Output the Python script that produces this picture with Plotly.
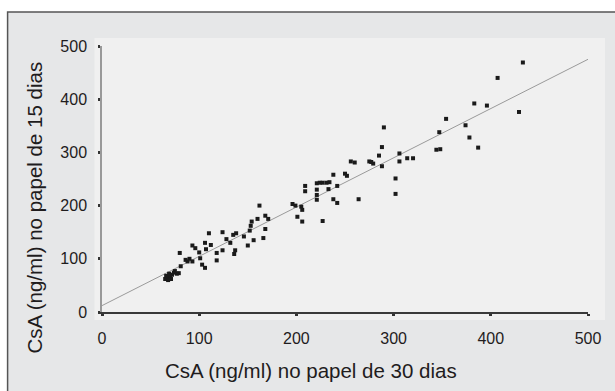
import plotly.graph_objects as go

# CsA (ng/ml) on paper at 30 days (x) vs 15 days (y)
csa_30 = [433, 407, 383, 396, 429, 354, 374, 378, 387, 347, 344, 348,
          290, 288, 285, 288, 306, 306, 314, 320, 302, 302,
          256, 260, 275, 277, 279, 250, 252, 238,
          221, 224, 227, 231, 234, 209, 209, 221, 221, 221, 233, 242,
          196, 199, 205, 206, 201, 206, 227, 238, 242, 264,
          162, 168, 171, 160, 154, 153, 152, 168, 166, 146, 138, 135, 132, 128, 124, 110,
          137, 136, 124, 118, 118, 150, 156, 112, 106, 107, 100, 101, 103, 106,
          93, 96, 90, 88, 93, 80, 86, 81, 79,
          65, 67, 68, 70, 72, 74, 66, 69, 71, 75, 77]
csa_15 = [469, 440, 392, 388, 376, 363, 351, 328, 309, 338, 305, 306,
          347, 310, 294, 274, 298, 283, 289, 289, 251, 222,
          283, 281, 283, 282, 279, 260, 256, 258,
          242, 243, 243, 243, 244, 237, 227, 230, 220, 211, 231, 237,
          203, 200, 198, 192, 179, 170, 171, 212, 205, 212,
          200, 181, 175, 175, 170, 162, 153, 156, 139, 142, 148, 145, 130, 137, 150, 148,
          116, 109, 116, 111, 97, 125, 135, 126, 130, 118, 112, 101, 89, 83,
          125, 120, 100, 95, 95, 111, 98, 86, 73,
          62, 64, 60, 66, 70, 74, 68, 72, 62, 77, 72]

fit_intercept = 12
fit_slope = 0.926
fit_x = [0, 500]
fit_y = [fit_intercept + fit_slope * v for v in fit_x]

ticks = [0, 100, 200, 300, 400, 500]
tick_text = [str(t) for t in ticks]

x_title = "CsA (ng/ml) no papel de 30 dias"
y_title = "CsA (ng/ml) no papel de 15 dias"

FONT = "Liberation Sans, Arial, sans-serif"
TXT = "#1f1c1d"

fig = go.Figure()
fig.add_trace(go.Scatter(x=fit_x, y=fit_y, mode="lines",
                         line=dict(color="#9a9a9a", width=1), hoverinfo="skip",
                         showlegend=False, cliponaxis=False))
fig.add_trace(go.Scatter(x=csa_30, y=csa_15, mode="markers",
                         marker=dict(symbol="square", size=4, color="#1a1a1a",
                                     line=dict(width=0)),
                         showlegend=False, cliponaxis=False))

W, H = 615, 391
L, R, T, B = 101.5, 27, 46, 79
pw = W - L - R
ph = H - T - B

def px2x(px):
    return (px - L) / pw

def py2y(py):
    return (H - B - py) / ph

shapes = [
    # outer grey panel with dark top/left border
    dict(type="rect", xref="paper", yref="paper", layer="below",
         x0=px2x(7), x1=px2x(625), y0=py2y(400), y1=py2y(12),
         fillcolor="#e6e7e8", line=dict(color="#555555", width=1.5)),
    # inner lighter plotting panel
    dict(type="rect", xref="paper", yref="paper", layer="below",
         x0=px2x(94), x1=px2x(605), y0=py2y(320), y1=py2y(38),
         fillcolor="#f0f0f0", line=dict(width=0)),
]

fig.update_layout(
    width=W, height=H,
    margin=dict(l=L, r=R, t=T, b=B, pad=0),
    paper_bgcolor="white",
    plot_bgcolor="rgba(0,0,0,0)",
    shapes=shapes,
    font=dict(family=FONT, color=TXT),
    xaxis=dict(range=[0, 500], tickvals=ticks, ticktext=tick_text,
               showgrid=False, zeroline=False,
               showline=True, linecolor="#3a3a3a", linewidth=2,
               ticks="outside", ticklen=2, tickwidth=3, tickcolor="#333333",
               ticklabelstandoff=9,
               tickfont=dict(size=16, color=TXT, family=FONT)),
    yaxis=dict(range=[0, 500], tickvals=ticks, ticktext=tick_text,
               showgrid=False, zeroline=False,
               showline=True, linecolor="#999999", linewidth=1.5,
               ticks="outside", ticklen=2, tickwidth=3, tickcolor="#333333",
               ticklabelstandoff=8,
               tickfont=dict(size=16, color=TXT, family=FONT)),
    annotations=[
        dict(text=x_title, xref="paper", yref="paper",
             x=px2x(311), y=py2y(370), xanchor="center", yanchor="middle",
             showarrow=False, font=dict(size=20.5, color=TXT, family=FONT)),
        dict(text=y_title, xref="paper", yref="paper", textangle=-90,
             x=px2x(33), y=py2y(208), xanchor="center", yanchor="middle",
             showarrow=False, font=dict(size=20.5, color=TXT, family=FONT)),
    ],
)

fig.write_html("out.html",
               config={"displayModeBar": False},
               post_script="document.body.style.margin='0';document.body.style.padding='0';")
